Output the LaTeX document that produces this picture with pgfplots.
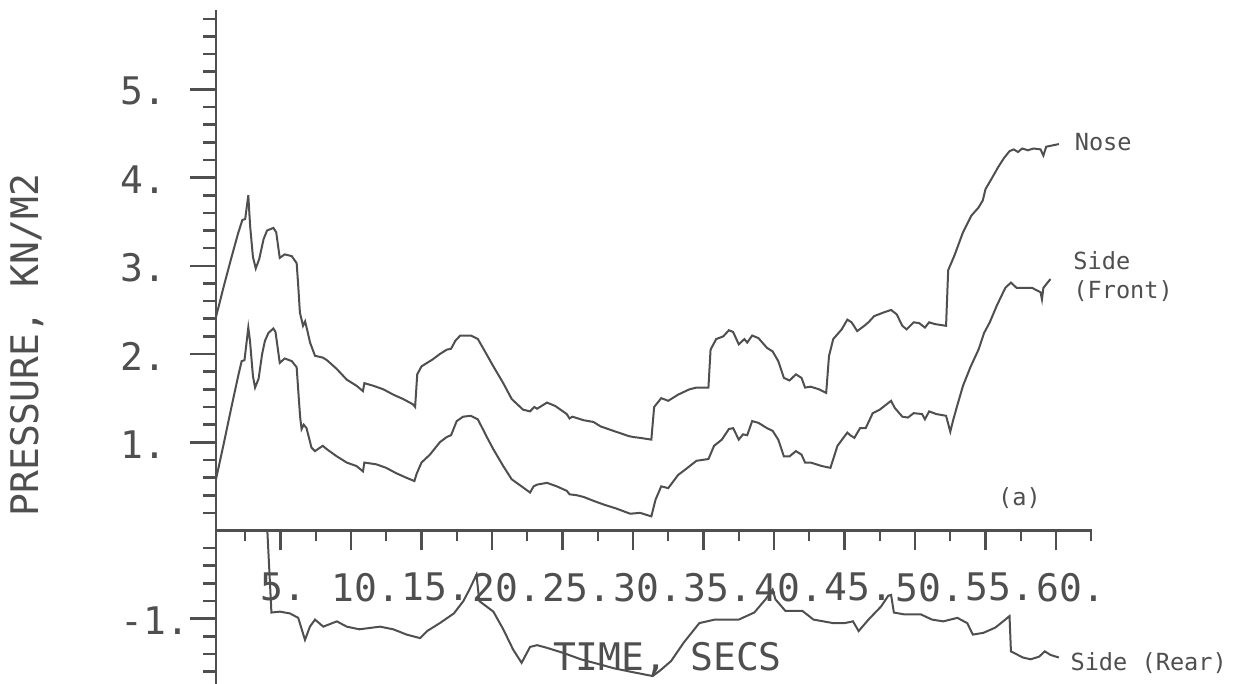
\documentclass[border=0pt]{standalone}
\usepackage{fontspec}
\newfontfamily\plotter{DejaVu Sans Mono}
\usepackage{pgfplots}
\pgfplotsset{compat=1.18}
\definecolor{ink}{HTML}{4F4F4F}
\newcommand{\bigfont}{\plotter\fontsize{19}{22}\selectfont}
\newcommand{\smallfont}{\plotter\fontsize{11.8}{14}\selectfont}
\begin{document}
\begin{tikzpicture}[x=1pt,y=1pt]
\useasboundingbox (0,0) rectangle (620.5,342);
\node[rotate=90, font=\bigfont, text=ink, inner sep=0pt] at (13.5,169.5) {PRESSURE, KN/M2};
% main axis with data and y axis
\begin{axis}[
  at={(108pt,0pt)}, anchor=south west,
  scale only axis, width=438pt, height=337pt,
  xmin=0.43, xmax=62.55, ymin=-1.74, ymax=5.9,
  axis x line=none, axis y line=left,
  axis line style={ink, line width=1.1pt, -},
  tick align=outside,
  xtick=\empty,
  ytick={-1,1,2,3,4,5},
  yticklabels={-1.,1.,2.,3.,4.,5.},
  minor ytick={-1.6,-1.4,-1.2,-0.8,-0.6,-0.4,-0.2,0.2,0.4,0.6,0.8,1.2,1.4,1.6,1.8,2.2,2.4,2.6,2.8,3.2,3.4,3.6,3.8,4.2,4.4,4.6,4.8,5.2,5.4,5.6,5.8},
  major tick length=13pt, minor tick length=6.5pt,
  every tick/.style={ink, line width=1.3pt},
  yticklabel style={font=\bigfont, text=ink, anchor=west, inner sep=0pt, xshift=-35pt, yshift=-1pt},
  clip=false,
]
\addplot[ink, line width=1pt] coordinates {
(0.43,2.42) (1.0,2.78) (1.5,3.08) (2.0,3.37) (2.3,3.52) (2.5,3.53) (2.72,3.80) (2.85,3.45) (3.05,3.10) (3.25,2.97) (3.5,3.08) (3.8,3.30) (4.05,3.40) (4.5,3.43) (4.7,3.38) (4.95,3.09) (5.3,3.13) (5.8,3.11) (6.15,3.03) (6.25,2.80) (6.38,2.47) (6.6,2.32) (6.75,2.37) (6.9,2.27) (7.1,2.13) (7.45,1.98) (8.0,1.96) (8.3,1.93) (9.0,1.83) (9.7,1.71) (10.4,1.64) (10.85,1.58) (10.95,1.67) (11.6,1.64) (12.3,1.60) (13.0,1.54) (13.7,1.49) (14.4,1.43) (14.55,1.40) (14.7,1.77) (15.0,1.86) (15.8,1.94) (16.3,2.00) (16.8,2.05) (17.1,2.06) (17.4,2.15) (17.75,2.21) (18.5,2.21) (19.0,2.17) (19.5,2.03) (20.1,1.86) (20.8,1.67) (21.4,1.49) (22.2,1.37) (22.7,1.35) (23.0,1.40) (23.2,1.38) (23.9,1.45) (24.5,1.41) (25.3,1.32) (25.5,1.27) (25.7,1.29) (26.5,1.25) (27.2,1.23) (27.7,1.18) (28.6,1.13) (29.7,1.07) (30.0,1.06) (30.5,1.05) (31.3,1.03) (31.5,1.40) (32.0,1.50) (32.5,1.47) (33.2,1.54) (34.0,1.60) (34.5,1.62) (35.35,1.62) (35.5,2.05) (35.9,2.17) (36.4,2.20) (36.8,2.27) (37.1,2.25) (37.5,2.11) (37.9,2.17) (38.1,2.13) (38.45,2.21) (38.9,2.18) (39.5,2.07) (39.9,2.03) (40.3,1.92) (40.7,1.73) (41.1,1.70) (41.55,1.77) (41.95,1.73) (42.2,1.62) (42.6,1.63) (43.2,1.60) (43.7,1.56) (43.9,1.98) (44.2,2.17) (44.8,2.28) (45.2,2.39) (45.5,2.36) (45.9,2.26) (46.4,2.32) (46.7,2.36) (47.1,2.43) (47.75,2.47) (48.3,2.50) (48.7,2.45) (49.1,2.32) (49.4,2.28) (49.9,2.36) (50.3,2.35) (50.7,2.30) (51.0,2.36) (51.4,2.34) (52.2,2.32) (52.35,2.95) (52.8,3.12) (53.4,3.38) (54.0,3.57) (54.5,3.66) (54.8,3.74) (55.0,3.87) (55.4,3.98) (55.9,4.12) (56.3,4.22) (56.7,4.30) (57.0,4.32) (57.3,4.29) (57.6,4.33) (58.0,4.31) (58.4,4.33) (58.9,4.32) (59.1,4.25) (59.3,4.35) (60.2,4.38)
};
\addplot[ink, line width=1pt] coordinates {
(0.43,0.58) (1.0,1.0) (1.5,1.38) (2.0,1.75) (2.25,1.92) (2.45,1.93) (2.72,2.30) (2.84,2.15) (3.05,1.75) (3.2,1.62) (3.45,1.72) (3.7,2.0) (3.9,2.15) (4.15,2.24) (4.5,2.29) (4.65,2.25) (4.95,1.90) (5.3,1.95) (5.8,1.92) (6.15,1.85) (6.3,1.50) (6.4,1.28) (6.5,1.15) (6.65,1.20) (6.85,1.16) (7.2,0.94) (7.45,0.90) (8.0,0.96) (8.3,0.92) (9.0,0.84) (9.7,0.77) (10.4,0.73) (10.85,0.67) (10.95,0.77) (11.8,0.75) (12.5,0.71) (13.2,0.65) (13.9,0.60) (14.5,0.56) (14.65,0.64) (15.0,0.77) (15.6,0.86) (16.3,1.00) (16.8,1.06) (17.1,1.08) (17.5,1.24) (17.95,1.29) (18.5,1.30) (19.0,1.26) (19.6,1.07) (20.1,0.92) (20.8,0.73) (21.4,0.58) (22.1,0.50) (22.7,0.43) (22.95,0.50) (23.2,0.52) (23.9,0.54) (24.6,0.50) (25.3,0.45) (25.5,0.41) (26.0,0.40) (26.5,0.38) (27.3,0.33) (28.0,0.29) (28.8,0.25) (29.8,0.19) (30.5,0.20) (31.3,0.16) (31.6,0.35) (32.0,0.50) (32.5,0.48) (33.2,0.63) (33.7,0.69) (34.5,0.79) (35.35,0.81) (35.75,0.96) (36.3,1.03) (36.8,1.15) (37.1,1.16) (37.5,1.03) (37.8,1.09) (38.1,1.08) (38.45,1.24) (38.9,1.22) (39.5,1.16) (39.9,1.13) (40.3,1.03) (40.7,0.84) (41.1,0.84) (41.55,0.90) (41.95,0.86) (42.2,0.77) (42.6,0.77) (43.4,0.73) (44.0,0.71) (44.5,0.96) (45.2,1.11) (45.4,1.08) (45.7,1.05) (46.1,1.16) (46.5,1.16) (47.0,1.33) (47.5,1.37) (48.3,1.47) (48.56,1.39) (49.1,1.29) (49.5,1.28) (49.9,1.33) (50.5,1.32) (50.7,1.26) (51.0,1.35) (51.5,1.32) (52.2,1.30) (52.5,1.12) (52.7,1.25) (53.0,1.42) (53.4,1.64) (53.95,1.86) (54.5,2.05) (54.9,2.24) (55.3,2.36) (55.8,2.55) (56.4,2.75) (56.8,2.81) (57.2,2.75) (58.3,2.75) (58.9,2.70) (59.0,2.62) (59.1,2.75) (59.6,2.85)
};
\addplot[ink, line width=1pt] coordinates {
(4.07,0.0) (4.36,-0.93) (4.96,-0.92) (5.67,-0.94) (6.26,-0.99) (6.74,-1.24) (7.09,-1.09) (7.45,-1.01) (8.04,-1.09) (9.0,-1.03) (9.7,-1.09) (10.6,-1.12) (12.06,-1.09) (13.0,-1.12) (13.95,-1.18) (14.9,-1.22) (15.4,-1.14) (16.3,-1.05) (17.3,-0.94) (17.97,-0.80) (18.4,-0.67) (18.9,-0.50) (19.1,-0.80) (20.1,-0.92) (20.8,-1.12) (21.5,-1.35) (22.1,-1.50) (22.7,-1.32) (23.2,-1.30) (23.9,-1.33) (25.1,-1.39) (26.3,-1.46) (27.7,-1.52) (28.6,-1.56) (29.8,-1.60) (31.4,-1.65) (31.9,-1.59) (32.7,-1.48) (33.6,-1.27) (34.7,-1.05) (35.8,-1.01) (37.5,-1.01) (38.6,-0.93) (39.4,-0.78) (39.9,-0.67) (40.1,-0.78) (40.8,-0.91) (42.0,-0.91) (42.8,-1.01) (44.2,-1.05) (45.0,-1.05) (45.6,-1.03) (46.0,-1.14) (46.7,-1.01) (47.6,-0.86) (48.1,-0.74) (48.3,-0.73) (48.5,-0.93) (49.2,-0.95) (50.4,-0.95) (51.2,-1.01) (52.0,-1.03) (53.0,-0.99) (53.7,-1.05) (54.1,-1.18) (54.85,-1.16) (55.7,-1.10) (56.4,-1.01) (56.7,-0.97) (56.8,-1.37) (57.65,-1.44) (58.2,-1.46) (58.8,-1.43) (59.2,-1.37) (59.6,-1.41) (60.2,-1.44)
};
\node[font=\smallfont, text=ink, anchor=west, inner sep=0pt] at (axis cs:61.3,4.40) {Nose};
\node[font=\smallfont, text=ink, anchor=west, inner sep=0pt] at (axis cs:61.2,3.06) {Side};
\node[font=\smallfont, text=ink, anchor=west, inner sep=0pt] at (axis cs:61.2,2.71) {(Front)};
\node[font=\smallfont, text=ink, anchor=center, inner sep=0pt] at (axis cs:57.4,0.37) {(a)};
\node[font=\smallfont, text=ink, anchor=west, inner sep=0pt] at (axis cs:61.0,-1.50) {Side (Rear)};
\node[font=\bigfont, text=ink, anchor=west, inner sep=0pt] at (axis cs:24.3,-1.46) {TIME, SECS};
\end{axis}
% x axis drawn at y = 0
\begin{axis}[
  at={(108pt,76.75pt)}, anchor=south west,
  scale only axis, width=438pt, height=20pt,
  xmin=0.43, xmax=62.55, ymin=0, ymax=1,
  axis x line=bottom, axis y line=none,
  axis line style={ink, line width=1.4pt, -},
  tick align=outside,
  xtick={5,10,15,20,25,30,35,40,45,50,55,60},
  xticklabels={5.,10.,15.,20.,25.,30.,35.,40.,45.,50.,55.,60.},
  minor xtick={2.5,7.5,12.5,17.5,22.5,27.5,32.5,37.5,42.5,47.5,52.5,57.5,62.5},
  major tick length=10pt, minor tick length=5.5pt,
  every tick/.style={ink, line width=1.1pt},
  xticklabel style={font=\bigfont, text=ink, anchor=north west, inner sep=0pt, xshift=-10pt, yshift=-11pt},
]
\end{axis}
\end{tikzpicture}
\end{document}
